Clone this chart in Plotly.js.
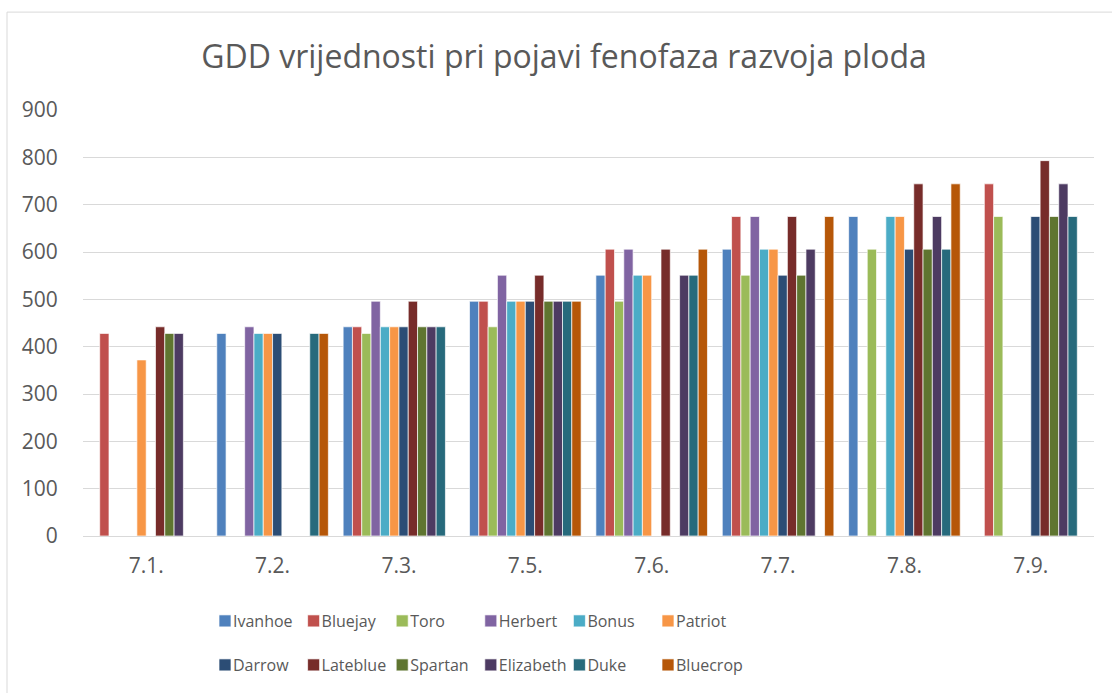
<!DOCTYPE html>
<html>
<head>
<meta charset="utf-8">
<script src="https://cdn.plot.ly/plotly-3.0.1.min.js"></script>
<style>
  html, body { margin: 0; padding: 0; background: #ffffff; overflow: hidden; }
  #chart { width: 1112px; height: 693px; }
</style>
</head>
<body>
<div id="chart"></div>
<script>
const categories = ["7.1.", "7.2.", "7.3.", "7.5.", "7.6.", "7.7.", "7.8.", "7.9."];

const ivanhoe   = [null, 428, 442, 496, 551, 606, 675, null];
const bluejay   = [428, null, 442, 496, 606, 675, null, 744];
const toro      = [null, null, 428, 442, 496, 551, 606, 675];
const herbert   = [null, 442, 496, 551, 606, 675, null, null];
const bonus     = [null, 428, 442, 496, 551, 606, 675, null];
const patriot   = [372, 428, 442, 496, 551, 606, 675, null];
const darrow    = [null, 428, 442, 496, null, 551, 606, 675];
const lateblue  = [442, null, 496, 551, 606, 675, 744, 793];
const spartan   = [428, null, 442, 496, null, 551, 606, 675];
const elizabeth = [428, null, 442, 496, 551, 606, 675, 744];
const duke      = [null, 428, 442, 496, 551, null, 606, 675];
const bluecrop  = [null, 428, null, 496, 606, 675, 744, null];

const seriesNames = ["Ivanhoe", "Bluejay", "Toro", "Herbert", "Bonus", "Patriot",
                     "Darrow", "Lateblue", "Spartan", "Elizabeth", "Duke", "Bluecrop"];
const seriesValues = [ivanhoe, bluejay, toro, herbert, bonus, patriot,
                      darrow, lateblue, spartan, elizabeth, duke, bluecrop];
const seriesColors = ["#4F81BD", "#C0504D", "#9BBB59", "#8064A2", "#4BACC6", "#F79646",
                      "#2C4D75", "#772C2A", "#5F7530", "#4D3B62", "#276A7C", "#B65708"];

const FONT = "Open Sans, Noto Sans, sans-serif";
const GREY = "#595959";

const traces = seriesNames.map((name, i) => ({
  type: "bar",
  name: name,
  x: categories,
  y: seriesValues[i],
  marker: { color: seriesColors[i], line: { color: "rgba(255,255,255,0.85)", width: 0.8 } },
  legend: i < 6 ? "legend" : "legend2",
  hoverinfo: "x+y+name"
}));

const legendCommon = {
  orientation: "h",
  xref: "container",
  yref: "container",
  xanchor: "left",
  yanchor: "middle",
  x: 205 / 1112,
  entrywidth: 43.6,
  itemwidth: 30,
  font: { family: FONT, size: 16, color: GREY },
  bgcolor: "rgba(0,0,0,0)",
  traceorder: "normal"
};

const layout = {
  width: 1112,
  height: 693,
  paper_bgcolor: "#ffffff",
  plot_bgcolor: "#ffffff",
  margin: { l: 83, r: 18, t: 110, b: 156.5, pad: 0 },
  title: {
    text: "GDD vrijednosti pri pojavi fenofaza razvoja ploda",
    font: { family: FONT, size: 32, color: GREY },
    xref: "container", yref: "container",
    x: 564 / 1112, xanchor: "center",
    y: 1 - 57 / 693, yanchor: "middle"
  },
  barmode: "group",
  bargap: 0.117,
  bargroupgap: 0,
  xaxis: {
    type: "category", showgrid: false, showline: false, zeroline: false,
    ticks: "outside", ticklen: 11, tickcolor: "rgba(0,0,0,0)",
    tickfont: { family: FONT, size: 21, color: GREY }
  },
  yaxis: {
    range: [0, 900], dtick: 100, tick0: 0,
    showgrid: true, gridcolor: "#d9d9d9", gridwidth: 1,
    zeroline: true, zerolinecolor: "#d9d9d9", zerolinewidth: 1,
    showline: false, ticks: "outside", ticklen: 20, tickcolor: "rgba(0,0,0,0)",
    tickfont: { family: FONT, size: 21, color: GREY }
  },
  showlegend: true,
  legend: Object.assign({}, legendCommon, { y: (693 - 621) / 693 }),
  legend2: Object.assign({}, legendCommon, { y: (693 - 665) / 693 }),
  shapes: [{
    type: "rect", xref: "paper", yref: "paper",
    x0: (7 - 83) / 1011, x1: (1200 - 83) / 1011,
    y0: -(800 - 536.5) / 426.5, y1: (536.5 - 12) / 426.5,
    line: { color: "#d9d9d9", width: 1 },
    fillcolor: "rgba(0,0,0,0)", layer: "below"
  }]
};

Plotly.newPlot("chart", traces, layout, { displayModeBar: false, staticPlot: true }).then(gd => {
  // Excel-style legend: label sits closer to its colour square
  gd.querySelectorAll("text.legendtext, text.legend2text").forEach(t => {
    const x = parseFloat(t.getAttribute("x") || "0");
    t.setAttribute("x", x - 12);
  });
  gd.querySelectorAll("g.infolayer [clip-path]").forEach(el => {
    if (el.closest("[class^='legend']")) el.removeAttribute("clip-path");
  });
});
</script>
</body>
</html>
